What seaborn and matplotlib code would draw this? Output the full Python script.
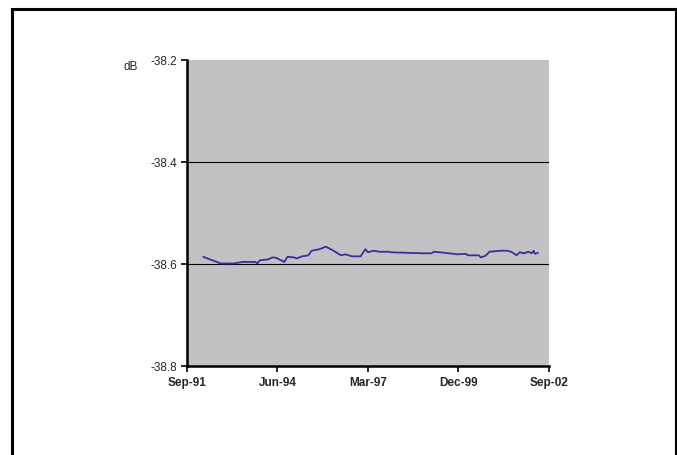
import matplotlib
matplotlib.use("Agg")
import matplotlib.pyplot as plt
from matplotlib.patches import Rectangle
import pandas as pd
import seaborn as sns

# Measured level over time (dB)
dates = [
    "1992-03-01", "1992-09-10", "1993-02-01", "1993-05-05", "1993-10-01",
    "1993-10-20", "1993-11-15", "1994-02-15", "1994-04-10", "1994-05-20",
    "1994-08-15", "1994-09-20", "1994-12-01", "1995-01-01", "1995-03-01",
    "1995-05-10", "1995-06-15", "1995-09-10", "1995-11-20", "1996-02-05",
    "1996-05-05", "1996-06-25", "1996-09-05", "1996-12-10", "1997-02-01",
    "1997-03-01", "1997-05-01", "1997-07-10", "1997-10-15", "1997-11-10",
    "1998-04-25", "1998-11-01", "1999-02-05", "1999-03-01", "1999-05-10",
    "1999-08-15", "1999-11-20", "2000-02-20", "2000-03-15", "2000-07-15",
    "2000-08-05", "2000-09-25", "2000-11-10", "2001-03-10", "2001-05-20",
    "2001-07-10", "2001-09-05", "2001-10-10", "2001-12-01", "2002-01-15",
    "2002-02-20", "2002-03-15", "2002-03-28", "2002-05-01",
]
level_db = [
    -38.586, -38.599, -38.599, -38.596, -38.596,
    -38.599, -38.593, -38.591, -38.587, -38.588,
    -38.596, -38.586, -38.587, -38.589, -38.585,
    -38.583, -38.574, -38.571, -38.566, -38.573,
    -38.583, -38.581, -38.585, -38.585, -38.571,
    -38.577, -38.574, -38.576, -38.576, -38.577,
    -38.578, -38.579, -38.579, -38.576, -38.577,
    -38.579, -38.581, -38.580, -38.583, -38.583,
    -38.587, -38.584, -38.576, -38.574, -38.574,
    -38.576, -38.583, -38.577, -38.579, -38.576,
    -38.579, -38.574, -38.580, -38.578,
]

x_ticks = ["1991-09-01", "1994-06-01", "1997-03-01", "1999-12-01", "2002-09-01"]
x_tick_labels = ["Sep-91", "Jun-94", "Mar-97", "Dec-99", "Sep-02"]
y_ticks = [-38.8, -38.6, -38.4, -38.2]
y_tick_labels = ["-38.8", "-38.6", "-38.4", "-38.2"]

df = pd.DataFrame({"date": pd.to_datetime(dates), "level": level_db})

sns.set_theme(style="white")
plt.rcParams["font.family"] = ["Liberation Sans", "DejaVu Sans"]

fig = plt.figure(figsize=(6.77, 4.56), dpi=100)
fig.patch.set_facecolor("white")

# Outer frame around the chart
fig.add_artist(Rectangle((11.5 / 677, -0.1), (676 - 11.5) / 677, 1.1 - 9.5 / 456,
                         transform=fig.transFigure, fill=False,
                         edgecolor="black", linewidth=2.2))

ax = fig.add_axes([187 / 677, (456 - 367) / 456, 362 / 677, 306 / 456])
ax.set_facecolor("#c2c1c4")

sns.lineplot(data=df, x="date", y="level", ax=ax, color="#333399",
             linewidth=1.3, estimator=None)

tick_dates = pd.to_datetime(x_ticks)
ax.set_xlim(tick_dates[0], tick_dates[-1])
ax.set_ylim(-38.8, -38.2)

ax.set_xticks(tick_dates)
ax.set_xticklabels(x_tick_labels, fontsize=8.5, fontweight="bold")
ax.set_yticks(y_ticks)
ax.set_yticklabels(y_tick_labels, fontsize=8.5)

for y in (-38.4, -38.6):
    ax.axhline(y, color="black", linewidth=0.8, zorder=1)

ax.set_xlabel("")
ax.set_ylabel("")

for side in ("top", "right"):
    ax.spines[side].set_visible(False)
for side in ("left", "bottom"):
    ax.spines[side].set_color("black")
    ax.spines[side].set_linewidth(1.8)

ax.tick_params(axis="both", which="major", direction="out", length=4,
               width=1.2, color="black", left=True, bottom=True, pad=3)

fig.text(124 / 677, 1 - 67 / 456, "dB", fontsize=8.5, ha="left", va="center")

fig.savefig("out.png", dpi=100, facecolor="white")
